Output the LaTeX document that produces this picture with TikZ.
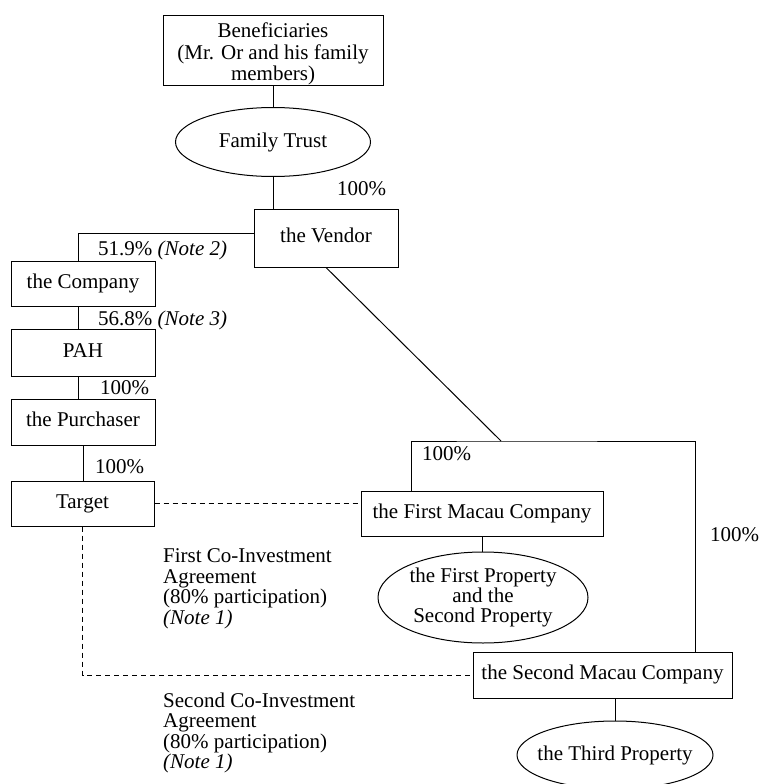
\documentclass[tikz,border=0pt]{standalone}
\usepackage{fontspec}
\setmainfont{Liberation Serif}
\usetikzlibrary{shapes.geometric}
\begin{document}
\begin{tikzpicture}[x=1pt,y=-1pt,
  every node/.style={font=\fontsize{21}{20.5}\selectfont, inner sep=0pt},
  box/.style={draw, line width=1pt, rectangle, align=center},
  sbox/.style={text height=14.3pt, text depth=4.6pt},
  oval/.style={draw, line width=1pt, ellipse, align=center, inner xsep=-25pt},
  lbl/.style={anchor=base west},
  link/.style={line width=1pt},
  agree/.style={line width=1pt, dash pattern=on 5pt off 4pt},
  note/.style={anchor=north west, align=left}]
\clip (0,0) rectangle (759,784);
% boxes and ovals
\node[box, minimum width=220pt, minimum height=69pt, font=\fontsize{21}{21.5}\selectfont] (benef) at (273,50.5) {\rule{0pt}{22pt}Beneficiaries\\(Mr. Or and his family\\members)};
\node[oval, minimum width=195pt, minimum height=69pt] (trust) at (273,142) {Family Trust};
\node[box, sbox, minimum width=144pt, minimum height=58pt] (vendor) at (326,238) {the Vendor};
\node[box, sbox, minimum width=144pt, minimum height=45pt] (company) at (83,283.5) {the Company};
\node[box, sbox, minimum width=144pt, minimum height=47pt] (pah) at (83,352.5) {PAH};
\node[box, sbox, minimum width=144pt, minimum height=46pt] (purch) at (83,422) {the Purchaser};
\node[box, sbox, minimum width=143pt, minimum height=45pt] (target) at (82.5,503.5) {Target};
\node[box, sbox, minimum width=242pt, minimum height=45pt] (macau1) at (482,513.5) {the First Macau Company};
\node[oval, minimum width=210pt, minimum height=91pt, font=\fontsize{21}{20}\selectfont] (prop12) at (483,597.5) {the First Property\\and the\\Second Property};
\node[box, sbox, minimum width=259pt, minimum height=46pt] (macau2) at (602.5,675) {the Second Macau Company};
\node[oval, minimum width=196pt, minimum height=68pt] (prop3) at (615,755) {the Third Property};
% percentage labels
\node[lbl] (p1) at (337,195) {100\%};
\node[lbl] (p2) at (98,255) {51.9\% \textit{(Note 2)}};
\node[lbl] (p3) at (98,325) {56.8\% \textit{(Note 3)}};
\node[lbl] (p4) at (100,394) {100\%};
\node[lbl] (p5) at (95,473) {100\%};
\node[lbl] (p6) at (422,460) {100\%};
\node[lbl] (p7) at (710,541) {100\%};
% agreement notes
\node[note] (ag1) at (163,548.7) {First Co-Investment\\Agreement\\(80\% participation)\\\textit{(Note 1)}};
\node[note] (ag2) at (163,692.7) {Second Co-Investment\\Agreement\\(80\% participation)\\\textit{(Note 1)}};
% connectors
\draw[link] (benef) -- (trust);
\draw[link] (trust.south) -- (trust.south |- vendor.north);
\draw[link] ([yshift=5pt]vendor.west) -| ([xshift=-5pt]company.north);
\draw[link] ([xshift=-5pt]company.south) -- ([xshift=-5pt]pah.north);
\draw[link] ([xshift=-5pt]pah.south) -- ([xshift=-5pt]purch.north);
\draw[link] (purch.south) -- (purch.south |- target.north);
\coordinate (hub) at (501,441);
\draw[link] (vendor.south) -- (hub);
\draw[link] ([xshift=51pt]macau1.north west) |- (hub) -| ([xshift=-37pt]macau2.north east);
\draw[link] (macau1.south) -- (macau1.south |- prop12.north);
\draw[link] (prop3.north) -- (prop3.north |- macau2.south);
\draw[agree] (target.east) -- (target.east -| macau1.west);
\draw[agree] (target.south) |- (macau2.west);
\end{tikzpicture}
\end{document}
